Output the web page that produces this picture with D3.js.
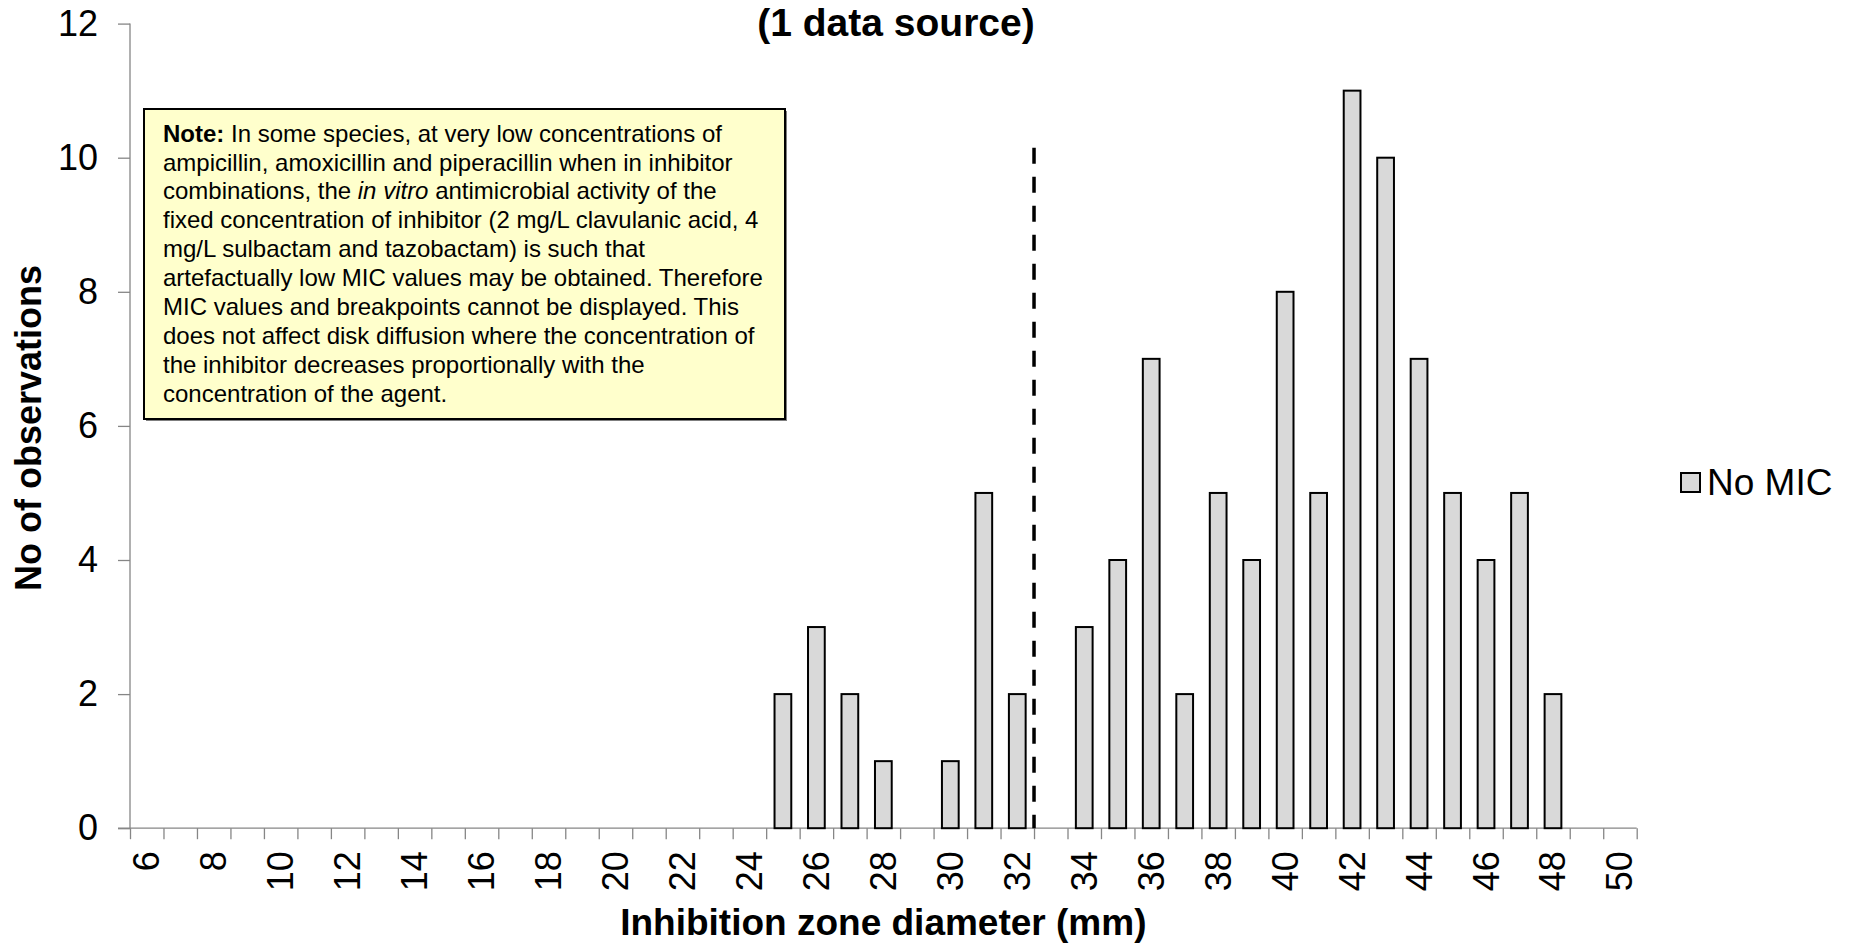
<!DOCTYPE html>
<html>
<head>
<meta charset="utf-8">
<script src="https://cdn.jsdelivr.net/npm/d3@7"></script>
<style>
  body { margin: 0; background: #fff; }
  text { font-family: "Liberation Sans", Arial, sans-serif; }
</style>
</head>
<body>
<script>
// categories (zone diameter, mm) and counts
var diameters = [6,7,8,9,10,11,12,13,14,15,16,17,18,19,20,21,22,23,24,25,26,27,28,29,30,31,32,33,34,35,36,37,38,39,40,41,42,43,44,45,46,47,48,49,50];
var counts    = [0,0,0,0,0,0,0,0,0,0,0,0,0,0,0,0,0,0,0,2,3,2,1,0,1,5,2,0,3,4,7,2,5,4,8,5,11,10,7,5,4,5,2,0,0];
var xTickLabels = [6,8,10,12,14,16,18,20,22,24,26,28,30,32,34,36,38,40,42,44,46,48,50];
var yTicks = [0,2,4,6,8,10,12];
var breakpoint = 32.5;      // dashed line between 32 and 33
var breakpointTop = 10.15;  // where the dashed line stops
var seriesName = "No MIC";
var noteLines = [
  [{t:"Note:", b:true}, {t:" In some species, at very low concentrations of"}],
  [{t:"ampicillin, amoxicillin and piperacillin when in inhibitor"}],
  [{t:"combinations, the "}, {t:"in vitro", i:true}, {t:" antimicrobial activity of the"}],
  [{t:"fixed concentration of inhibitor (2 mg/L clavulanic acid, 4"}],
  [{t:"mg/L sulbactam and tazobactam) is such that"}],
  [{t:"artefactually low MIC values may be obtained. Therefore"}],
  [{t:"MIC values and breakpoints cannot be displayed. This"}],
  [{t:"does not affect disk diffusion where the concentration of"}],
  [{t:"the inhibitor decreases proportionally with the"}],
  [{t:"concentration of the agent."}]
];

var data = diameters.map(function(d, i) { return {d: d, n: counts[i]}; });

var svg = d3.select("body").append("svg")
  .attr("width", 1850)
  .attr("height", 943);

var plotLeft = 130, plotRight = 1636.7, plotTop = 23.6, plotBottom = 828.2;

var x = d3.scaleBand()
  .domain(diameters)
  .range([plotLeft, plotRight])
  .paddingInner(0.5)
  .paddingOuter(0.25);

// linear version of the same axis, for boundary ticks and the dashed line
var xLin = d3.scaleLinear()
  .domain([5.5, 50.5])
  .range([plotLeft, plotRight]);

var y = d3.scaleLinear()
  .domain([0, 12])
  .range([plotBottom, plotTop]);

var axisColor = "#868686";

// y axis
var yAxis = svg.append("g")
  .attr("transform", "translate(" + plotLeft + ",0)")
  .call(d3.axisLeft(y).tickValues(yTicks).tickSize(12).tickPadding(20));
yAxis.selectAll("path, line").attr("stroke", axisColor).attr("stroke-width", 1.3);
yAxis.select(".domain").attr("d", "M0," + plotTop + "V" + plotBottom);
yAxis.selectAll("text")
  .style("font-size", "36px")
  .attr("fill", "#000");

// x axis: ticks on category boundaries
var bounds = diameters.map(function(d) { return d - 0.5; }).concat([50.5]);
var xAxis = svg.append("g")
  .attr("transform", "translate(0," + plotBottom + ")")
  .call(d3.axisBottom(xLin).tickValues(bounds).tickSize(11).tickFormat(""));
xAxis.selectAll("path, line").attr("stroke", axisColor).attr("stroke-width", 1.3);
xAxis.select(".domain").attr("d", "M118,0H" + plotRight);

// x labels, rotated
var xLab = svg.append("g")
  .attr("transform", "translate(0," + plotBottom + ")")
  .call(d3.axisBottom(x).tickValues(xTickLabels).tickSize(0).tickPadding(0));
xLab.select(".domain").remove();
xLab.selectAll("text")
  .style("font-size", "36px")
  .attr("fill", "#000")
  .attr("text-anchor", "end")
  .attr("dy", null)
  .attr("y", 0)
  .attr("transform", "translate(0,23) rotate(-90)")
  .attr("x", 0)
  .attr("dominant-baseline", "central");

// bars
svg.append("g").selectAll("rect")
  .data(data.filter(function(d) { return d.n > 0; }))
  .enter()
  .append("rect")
  .attr("x", function(d) { return x(d.d); })
  .attr("y", function(d) { return y(d.n); })
  .attr("width", x.bandwidth())
  .attr("height", function(d) { return y(0) - y(d.n); })
  .attr("fill", "#D9D9D9")
  .attr("stroke", "#000")
  .attr("stroke-width", 2);

// breakpoint dashed line
svg.append("line")
  .attr("x1", xLin(breakpoint))
  .attr("x2", xLin(breakpoint))
  .attr("y1", y(breakpointTop))
  .attr("y2", y(0))
  .attr("stroke", "#000")
  .attr("stroke-width", 3.5)
  .attr("stroke-dasharray", "16,13");

// note box
var note = svg.append("g");
note.append("rect")
  .attr("x", 146).attr("y", 111)
  .attr("width", 641).attr("height", 310)
  .attr("fill", "#7f7f7f");
note.append("rect")
  .attr("x", 144).attr("y", 109)
  .attr("width", 641).attr("height", 310)
  .attr("fill", "#FFFFCC")
  .attr("stroke", "#000")
  .attr("stroke-width", 2);
var noteText = note.append("text")
  .style("font-size", "24px")
  .attr("fill", "#000");
noteLines.forEach(function(line, i) {
  var row = noteText.append("tspan")
    .attr("x", 163)
    .attr("y", 141.6 + i * 28.9);
  line.forEach(function(part) {
    row.append("tspan")
      .attr("font-weight", part.b ? "bold" : null)
      .attr("font-style", part.i ? "italic" : null)
      .text(part.t);
  });
});

// title (only the last line is visible)
svg.append("text")
  .attr("x", 896)
  .attr("y", 36)
  .attr("text-anchor", "middle")
  .attr("font-weight", "bold")
  .style("font-size", "39px")
  .text("(1 data source)");

// axis titles
svg.append("text")
  .attr("x", (plotLeft + plotRight) / 2)
  .attr("y", 935)
  .attr("text-anchor", "middle")
  .attr("font-weight", "bold")
  .style("font-size", "37px")
  .text("Inhibition zone diameter (mm)");

svg.append("text")
  .attr("transform", "translate(41,428) rotate(-90)")
  .attr("text-anchor", "middle")
  .attr("font-weight", "bold")
  .style("font-size", "36px")
  .text("No of observations");

// legend
svg.append("rect")
  .attr("x", 1681).attr("y", 473)
  .attr("width", 19).attr("height", 19)
  .attr("fill", "#D9D9D9")
  .attr("stroke", "#000")
  .attr("stroke-width", 2);
svg.append("text")
  .attr("x", 1707)
  .attr("y", 495)
  .style("font-size", "37px")
  .text(seriesName);
</script>
</body>
</html>
